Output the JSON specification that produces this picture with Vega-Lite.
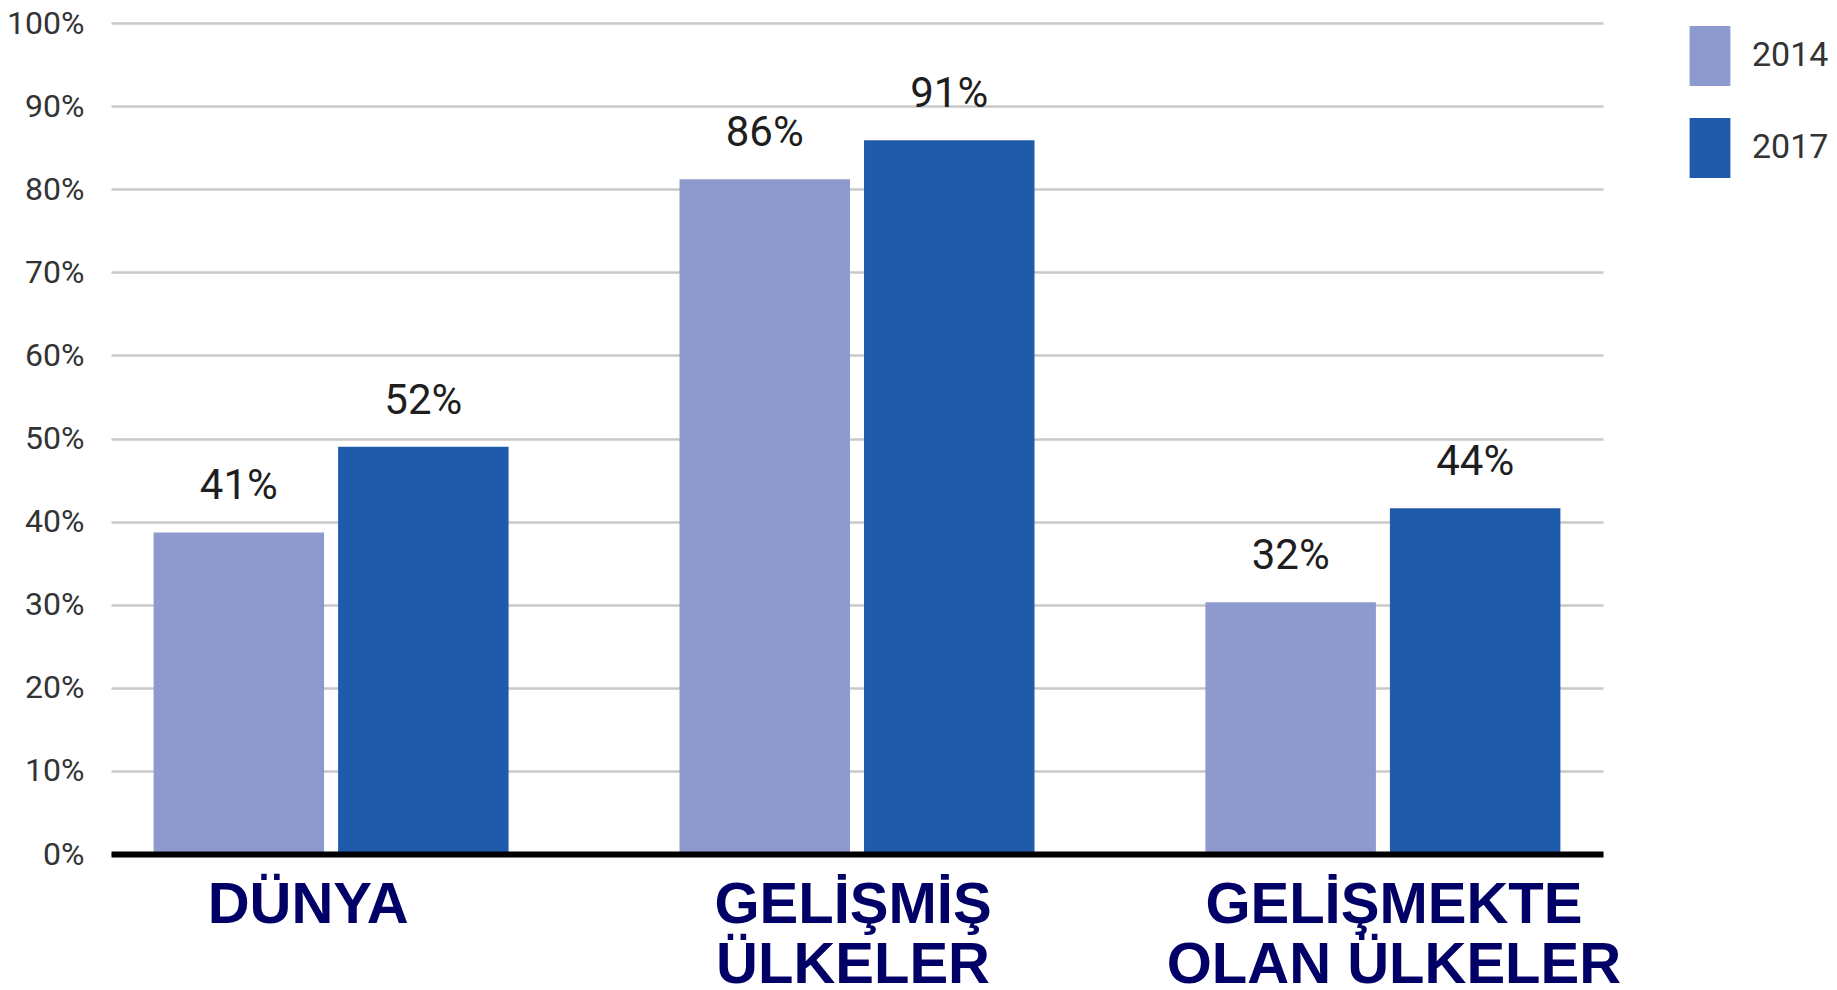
{
  "$schema": "https://vega.github.io/schema/vega-lite/v6.json",
  "width": 1492,
  "height": 831,
  "autosize": {"type": "none"},
  "padding": {"left": 111, "top": 23, "right": 234, "bottom": 136},
  "background": "white",
  "config": {"view": {"stroke": null}},
  "data": {
    "values": [
      {"region": "DÜNYA", "year": "2014", "value": 38.7, "label": "41%"},
      {"region": "DÜNYA", "year": "2017", "value": 49.0, "label": "52%"},
      {"region": "GELİŞMİŞ ÜLKELER", "year": "2014", "value": 81.2, "label": "86%"},
      {"region": "GELİŞMİŞ ÜLKELER", "year": "2017", "value": 85.9, "label": "91%"},
      {"region": "GELİŞMEKTE OLAN ÜLKELER", "year": "2014", "value": 30.3, "label": "32%"},
      {"region": "GELİŞMEKTE OLAN ÜLKELER", "year": "2017", "value": 41.6, "label": "44%"}
    ]
  },
  "encoding": {
    "x": {
      "field": "region",
      "type": "nominal",
      "sort": ["DÜNYA", "GELİŞMİŞ ÜLKELER", "GELİŞMEKTE OLAN ÜLKELER"],
      "scale": {"paddingInner": 0.325, "paddingOuter": 0.081},
      "axis": {
        "title": null,
        "labelAngle": 0,
        "labelExpr": "datum.value == 'GELİŞMİŞ ÜLKELER' ? ['GELİŞMİŞ', 'ÜLKELER'] : datum.value == 'GELİŞMEKTE OLAN ÜLKELER' ? ['GELİŞMEKTE', 'OLAN ÜLKELER'] : datum.value",
        "labelFont": "Liberation Sans",
        "labelFontWeight": "bold",
        "labelFontSize": 58,
        "labelColor": "#000066",
        "labelBaseline": "top",
        "labelLineHeight": 60,
        "labelPadding": 22,
        "labelOffset": {
          "condition": [
            {"test": "datum.value == 'DÜNYA'", "value": -23},
            {"test": "datum.value == 'GELİŞMEKTE OLAN ÜLKELER'", "value": 11}
          ],
          "value": -4
        },
        "labelLimit": 800,
        "labelOverlap": false,
        "labelFlush": false,
        "ticks": false,
        "grid": false,
        "domain": true,
        "domainColor": "#000000",
        "domainWidth": 6,
        "zindex": 1
      }
    },
    "xOffset": {
      "field": "year",
      "type": "nominal",
      "scale": {"paddingInner": 0.076, "paddingOuter": 0}
    },
    "y": {
      "field": "value",
      "type": "quantitative",
      "scale": {"domain": [0, 100], "nice": false},
      "axis": {
        "title": null,
        "values": [0, 10, 20, 30, 40, 50, 60, 70, 80, 90, 100],
        "labelExpr": "datum.value + '%'",
        "labelFont": "Roboto",
        "labelFontSize": 32,
        "labelColor": "#333333",
        "labelPadding": 27,
        "ticks": false,
        "domain": false,
        "grid": true,
        "gridColor": "#c8c8c8",
        "gridWidth": 2.5
      }
    }
  },
  "layer": [
    {
      "mark": {"type": "bar"},
      "encoding": {
        "color": {
          "field": "year",
          "type": "nominal",
          "scale": {"domain": ["2014", "2017"], "range": ["#8E9ACE", "#1F5BAA"]},
          "legend": {
            "title": null,
            "orient": "none",
            "legendX": 1569,
            "legendY": 3,
            "padding": 0,
            "symbolType": "M-0.68,-1H0.68V1H-0.68Z",
            "symbolSize": 3600,
            "symbolStrokeWidth": 0,
            "symbolOpacity": 1,
            "labelFont": "Roboto",
            "labelFontSize": 34,
            "labelColor": "#333333",
            "labelOffset": 12,
            "rowPadding": 32
          }
        }
      }
    },
    {
      "mark": {
        "type": "text",
        "dy": -33,
        "baseline": "alphabetic",
        "font": "Roboto",
        "fontSize": 42,
        "color": "#1e1e1e"
      },
      "encoding": {"text": {"field": "label"}}
    }
  ]
}
